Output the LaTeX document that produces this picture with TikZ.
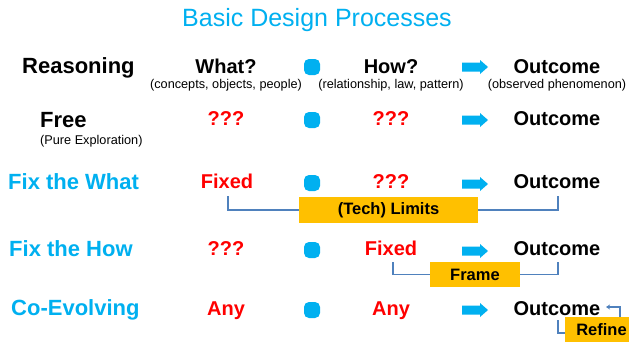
\documentclass[tikz,border=0pt]{standalone}
\usepackage{fontspec}
\setmainfont{Liberation Sans}
\usetikzlibrary{backgrounds,arrows.meta}
\definecolor{cy}{RGB}{0,176,240}
\definecolor{rd}{RGB}{255,0,0}
\definecolor{gold}{RGB}{255,192,0}
\definecolor{brkc}{RGB}{79,129,189}
\tikzset{
  lbl/.style={font=\fontsize{22}{24}\selectfont\bfseries, anchor=base west, inner sep=0},
  mainlbl/.style={font=\fontsize{20}{22}\selectfont\bfseries, anchor=base, inner sep=0},
  red/.style={mainlbl, text=rd},
  sublbl/.style={font=\fontsize{12.7}{14}\selectfont, anchor=base, inner sep=0},
  dotm/.style={fill=cy, rounded corners=5pt, minimum size=16pt, inner sep=0},
  boxm/.style={fill=gold, font=\fontsize{16.5}{18}\selectfont\bfseries, inner sep=0},
  brkline/.style={draw=brkc, line width=1.3pt},
  barrow/.pic={\fill[cy] (0,-4.5) -- (18,-4.5) -- (18,-7) -- (26,0) -- (18,7) -- (18,4.5) -- (0,4.5) -- cycle;}
}
\begin{document}
\begin{tikzpicture}[x=1pt,y=-1pt]
\useasboundingbox (0,0) rectangle (629,341);

\node[font=\fontsize{25}{28}\selectfont, text=cy, anchor=base, inner sep=0] (title) at (317,26) {Basic Design Processes};

% Row 1
\node[lbl] (r1) at (22,73) {Reasoning};
\node[mainlbl] (w1) at (226,73) {What?};
\node[sublbl] (w1s) at (226,88) {(concepts, objects, people)};
\node[dotm] (d1) at (312,67) {};
\node[mainlbl] (h1) at (391,73) {How?};
\node[sublbl] (h1s) at (391,88) {(relationship, law, pattern)};
\pic at (462,67) {barrow};
\node[mainlbl] (o1) at (557,73) {Outcome};
\node[sublbl] (o1s) at (557,88) {(observed phenomenon)};

% Row 2
\node[lbl] (r2) at (40,127) {Free};
\node[sublbl, anchor=base west] (r2s) at (40,144) {(Pure Exploration)};
\node[red] (w2) at (226,125) {???};
\node[dotm] (d2) at (312,120) {};
\node[red] (h2) at (391,125) {???};
\pic at (462,120) {barrow};
\node[mainlbl] (o2) at (557,125) {Outcome};

% Row 3
\node[lbl, text=cy] (r3) at (8,189) {Fix the What};
\node[red] (w3) at (227,188) {Fixed};
\node[dotm] (d3) at (312,183) {};
\node[red] (h3) at (391,188) {???};
\pic at (462,184) {barrow};
\node[mainlbl] (o3) at (557,188) {Outcome};
\node[boxm, minimum width=179pt, minimum height=26pt] (lim) at (388.5,210) {(Tech) Limits};
\coordinate (b3l) at (228,196);
\coordinate (b3r) at (558,196);

% Row 4
\node[lbl, text=cy] (r4) at (9,256) {Fix the How};
\node[red] (w4) at (226,255) {???};
\node[dotm] (d4) at (312,250) {};
\node[red] (h4) at (391,255) {Fixed};
\pic at (462,251) {barrow};
\node[mainlbl] (o4) at (557,255) {Outcome};
\node[boxm, minimum width=90pt, minimum height=25pt] (frm) at (475,274.5) {Frame};
\coordinate (b4l) at (393,262);
\coordinate (b4r) at (558,262);

% Row 5
\node[lbl, text=cy] (r5) at (11,315) {Co-Evolving};
\node[red] (w5) at (226,315) {Any};
\node[dotm] (d5) at (312,310) {};
\node[red] (h5) at (391,315) {Any};
\pic at (462,310) {barrow};
\node[mainlbl] (o5) at (557,315) {Outcome};
\node[boxm, minimum width=73pt, minimum height=26pt] (ref) at (601.5,330) {Refine};
\coordinate (rtop) at (620,317);
\coordinate (rtip) at (606,307);
\coordinate (rbl) at (558,320);

\begin{scope}[on background layer]
\fill[white] (0,0) rectangle (629,341);
\draw[brkline] (b3l) -- (b3l |- lim.center) -- (b3r |- lim.center) -- (b3r);
\draw[brkline] (b4l) -- (b4l |- frm.center) -- (b4r |- frm.center) -- (b4r);
\draw[brkline] (rbl) |- ([yshift=-3pt]ref.west);
\end{scope}
\draw[brkline, line width=1.1pt, -{Stealth[length=4pt,width=5pt]}] (rtop) |- (rtip);
\end{tikzpicture}
\end{document}
